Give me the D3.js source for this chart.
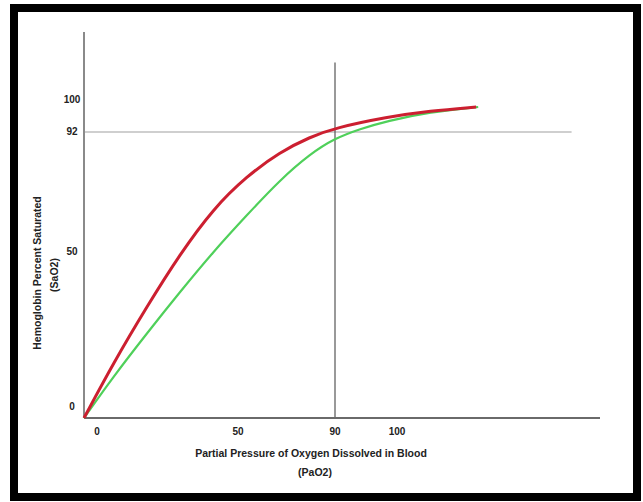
<!DOCTYPE html>
<html>
<head>
<meta charset="utf-8">
<script src="https://cdn.jsdelivr.net/npm/d3@7/dist/d3.min.js"></script>
<style>
  html, body { margin: 0; padding: 0; background: #fff; }
  svg { display: block; }
  text { font-family: "Liberation Sans Narrow", "Arial Narrow", "Liberation Sans", sans-serif; font-weight: bold; fill: #222; }
</style>
</head>
<body>
<svg id="chart" width="643" height="502"></svg>
<script>
// ---- data ----
const xTickValues = [0, 50, 90, 100];
const yTickValues = [0, 50, 92, 100];
const xTitle = ["Partial Pressure of Oxygen Dissolved in Blood", "(PaO2)"];
const yTitle = ["Hemoglobin Percent Saturated", "(SaO2)"];
const refX = 90;   // vertical reference line (PaO2)
const refY = 92;   // horizontal reference line (SaO2)

// Red curve (PaO2, SaO2)
const redPaO2 = [0, 9.4, 20.5, 31.2, 41.9, 53.7, 67.3, 79.7, 90, 98.4, 108.1, 119.5];
const redSaO2 = [0, 16.3, 33.7, 49.4, 65.1, 76.6, 85.0, 90.25, 93, 95.75, 97.25, 98.25];
// Green curve (PaO2, SaO2)
const greenPaO2 = [0, 9.4, 20.5, 31.2, 41.9, 53.7, 67.3, 79.7, 90, 94, 98.4, 108.1, 120];
const greenSaO2 = [0, 12.3, 25.6, 38.0, 50, 62.95, 75.2, 84.3, 89.8, 92.75, 94.75, 97.0, 98.25];

// ---- chart ----
const svg = d3.select("#chart");

// schematic (piecewise) scales, as in the original drawing
const x = d3.scaleLinear().domain([0, 50, 90, 100, 150]).range([84, 238, 335, 397, 600]);
const y = d3.scaleLinear().domain([0, 50, 92, 100, 120]).range([418, 252, 132, 100, 32]);

// frame
svg.append("rect").attr("x", 14).attr("y", 8).attr("width", 623).attr("height", 489)
  .attr("fill", "#fff").attr("stroke", "#000").attr("stroke-width", 8);

// reference lines
svg.append("line")
  .attr("x1", x(0)).attr("x2", x(143)).attr("y1", y(refY)).attr("y2", y(refY))
  .attr("stroke", "#a0a0a0").attr("stroke-width", 1.2);
svg.append("line")
  .attr("x1", x(refX)).attr("x2", x(refX)).attr("y1", y(111)).attr("y2", y(0))
  .attr("stroke", "#555").attr("stroke-width", 1.2);

// axes
svg.append("line")
  .attr("x1", x(0)).attr("x2", x(0)).attr("y1", y(120)).attr("y2", y(0))
  .attr("stroke", "#8a8a8a").attr("stroke-width", 2);
svg.append("line")
  .attr("x1", x(0)).attr("x2", x(150)).attr("y1", y(0)).attr("y2", y(0))
  .attr("stroke", "#6a6a6a").attr("stroke-width", 2);

// curves
const line = d3.line().x(d => x(d[0])).y(d => y(d[1])).curve(d3.curveBasis);
const green = greenPaO2.map((v, i) => [v, greenSaO2[i]]);
const red = redPaO2.map((v, i) => [v, redSaO2[i]]);

svg.append("path").datum(green).attr("d", line)
  .attr("fill", "none").attr("stroke", "#4fd05a").attr("stroke-width", 2.2);
svg.append("path").datum(red).attr("d", line)
  .attr("fill", "none").attr("stroke", "#cc1f30").attr("stroke-width", 3);

// tick labels
svg.append("g").selectAll("text").data(xTickValues).join("text")
  .attr("x", d => x(d) + (d === 0 ? 13 : 0))
  .attr("y", y(0) + 17)
  .attr("text-anchor", "middle")
  .attr("font-size", 10)
  .text(d => d);

svg.append("g").selectAll("text").data(yTickValues).join("text")
  .attr("x", x(0) - 12)
  .attr("y", d => y(d) + (d === 0 ? -11 : 0) + 3)
  .attr("text-anchor", "middle")
  .attr("font-size", 10)
  .text(d => d);

// x title
svg.append("text").attr("x", 311).attr("y", 457).attr("text-anchor", "middle")
  .attr("font-size", 10.5).text(xTitle[0]);
svg.append("text").attr("x", 315).attr("y", 476).attr("text-anchor", "middle")
  .attr("font-size", 10.5).text(xTitle[1]);

// y title
svg.append("text").attr("transform", "translate(41,273) rotate(-90)").attr("text-anchor", "middle")
  .attr("font-size", 10.5).text(yTitle[0]);
svg.append("text").attr("transform", "translate(58,275) rotate(-90)").attr("text-anchor", "middle")
  .attr("font-size", 10.5).text(yTitle[1]);
</script>
</body>
</html>
